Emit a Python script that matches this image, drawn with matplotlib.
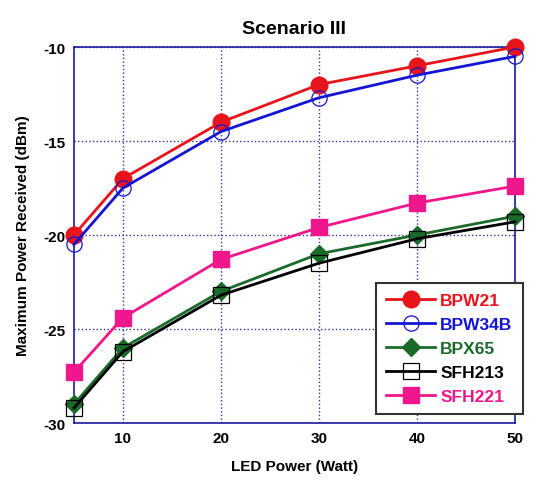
import matplotlib.pyplot as plt

plt.rcParams['font.family'] = ['Liberation Sans', 'DejaVu Sans']
plt.rcParams['font.weight'] = 'bold'
plt.rcParams['axes.unicode_minus'] = False

led_power = [5, 10, 20, 30, 40, 50]

bpw21 = [-20.0, -17.0, -14.0, -12.0, -11.0, -10.0]
bpw34b = [-20.5, -17.5, -14.5, -12.7, -11.5, -10.5]
bpx65 = [-29.0, -26.0, -23.0, -21.0, -20.0, -19.0]
sfh213 = [-29.2, -26.2, -23.2, -21.5, -20.2, -19.3]
sfh221 = [-27.3, -24.4, -21.3, -19.6, -18.3, -17.4]

x_ticks = [10, 20, 30, 40, 50]
y_ticks = [-30, -25, -20, -15, -10]

fig = plt.figure(figsize=(5.38, 4.81), dpi=100)
ax = fig.add_axes([0.1375, 0.1185, 0.8195, 0.7817])

# series: label, data, colour, marker, size, filled
series = [
    ('BPW21', bpw21, '#e8141b', 'o', 12, True),
    ('BPW34B', bpw34b, '#1414d2', 'o', 11, False),
    ('BPX65', bpx65, '#1a6b2a', 'D', 9, True),
    ('SFH213', sfh213, 'black', 's', 11, False),
    ('SFH221', sfh221, '#f0168c', 's', 12, True),
]

for name, vals, col, mk, ms, filled in series:
    ax.plot(led_power, vals, color=col, marker=mk, markersize=ms, lw=2,
            markerfacecolor=col if filled else 'none',
            markeredgecolor=col, markeredgewidth=1 if filled else 0.9,
            label=name, clip_on=False, zorder=3)

ax.set_xlim(5, 50)
ax.set_ylim(-30, -10)
ax.set_xticks(x_ticks)
ax.set_yticks(y_ticks)
ax.tick_params(labelsize=11, length=0, pad=6)
for lbl in ax.get_xticklabels() + ax.get_yticklabels():
    lbl.set_fontweight('bold')
ax.grid(True, color='#3030a0', linestyle=':', linewidth=1)
for sp in ax.spines.values():
    sp.set_color('#1a1aa0')
    sp.set_linewidth(1.2)

ax.set_title('Scenario III', fontsize=14, fontweight='bold', pad=10)
ax.set_xlabel('LED Power (Watt)', fontsize=11, fontweight='bold', labelpad=10)
ax.set_ylabel('Maximum Power Received (dBm)', fontsize=11, fontweight='bold', labelpad=10)

leg = ax.legend(loc='lower right', bbox_to_anchor=(0.972, 0.137),
                bbox_transform=fig.transFigure, borderaxespad=0,
                fontsize=12.5, frameon=True, fancybox=False,
                edgecolor='#333333', framealpha=1, handlelength=2.8,
                labelspacing=0.5, handletextpad=0.3, borderpad=0.6)
leg.get_frame().set_linewidth(1.5)
leg.set_zorder(5)
for txt, s in zip(leg.get_texts(), series):
    txt.set_color(s[2])
    txt.set_fontweight('bold')

fig.savefig('out.png', dpi=100)
